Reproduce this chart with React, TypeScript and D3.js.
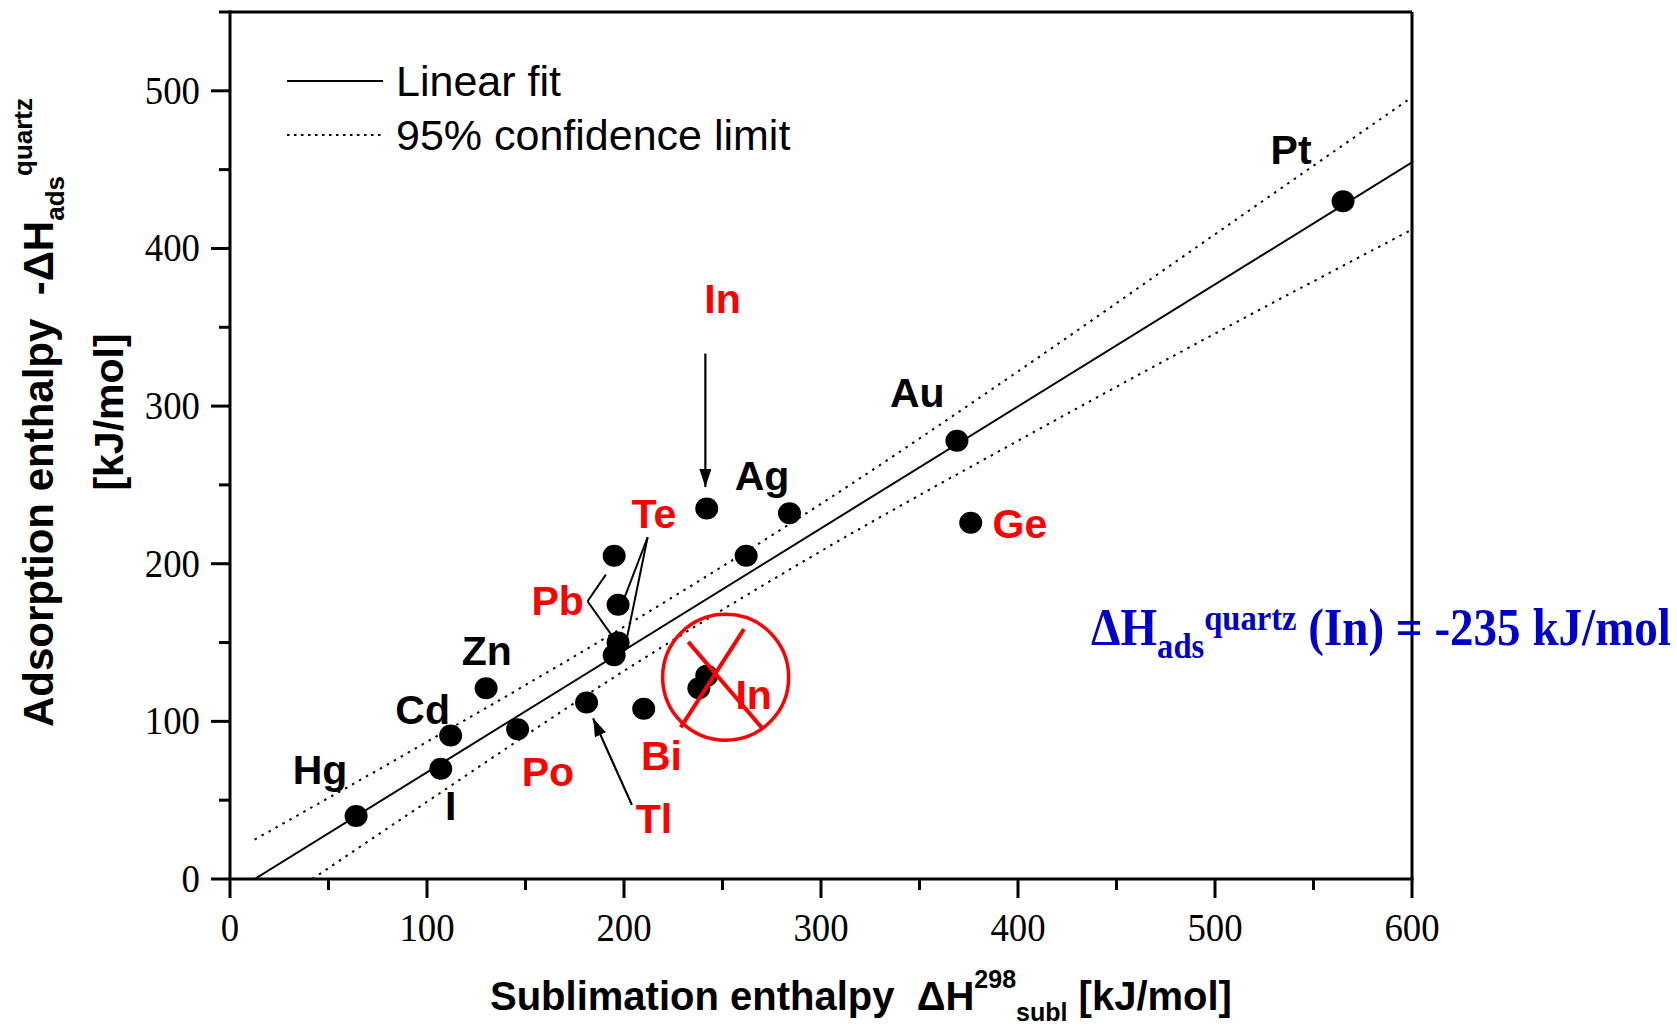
import * as d3 from 'd3'

// measured points: sublimation enthalpy vs adsorption enthalpy on quartz
const elements = ['Hg', 'I', 'Cd', 'Zn', 'Po', 'Tl', 'Pb', 'Te', 'Te', 'Pb', 'Bi', 'In', 'In', 'In', 'Ag', 'Ag', 'Au', 'Ge', 'Pt']
const sublimation = [64, 107, 112, 130, 146, 181, 195, 197, 197, 195, 210, 238, 242, 242, 262, 284, 369, 376, 565]
const adsorption = [40, 70, 91, 121, 95, 112, 205, 174, 150, 142, 108, 121, 129, 235, 205, 232, 278, 226, 430]

// linear fit and 95% limits
const fitX = [12.5, 600]
const fitY = [0, 454.6]
const upperX = [12.5, 100, 200, 300, 400, 500, 600]
const upperY = [25, 87, 160, 238, 322, 409, 496]
const lowerX = [41.8, 100, 200, 300, 400, 500, 600]
const lowerY = [0, 49, 132, 208, 278, 346, 412]

const xTicks = [0, 100, 200, 300, 400, 500, 600]
const yTicks = [0, 100, 200, 300, 400, 500]

// element labels (data units, baseline centre)
const labels = [
    { t: 'Hg', x: 45.7, y: 60.3, red: false },
    { t: 'Cd', x: 97.8, y: 98.2, red: false },
    { t: 'Zn', x: 130.4, y: 135.5, red: false },
    { t: 'I', x: 112, y: 37.3, red: false },
    { t: 'Po', x: 161.4, y: 58.9, red: true },
    { t: 'Tl', x: 215.2, y: 29.1, red: true },
    { t: 'Bi', x: 219, y: 69.1, red: true },
    { t: 'Pb', x: 166.3, y: 167.3, red: true },
    { t: 'Te', x: 215.2, y: 222.9, red: true },
    { t: 'In', x: 250, y: 359, red: true },
    { t: 'Ag', x: 270.1, y: 246.6, red: false },
    { t: 'Au', x: 348.9, y: 299.5, red: false },
    { t: 'Ge', x: 401, y: 216.1, red: true },
    { t: 'Pt', x: 538.6, y: 453.3, red: false },
    { t: 'In', x: 265.8, y: 107.7, red: true },
]

// leader lines [x1, y1, x2, y2] in data units
const leaders = [
    [181.5, 176.2, 190.8, 193.1],
    [181.5, 176.2, 194.6, 153.1],
    [212, 216.8, 198.9, 174.1],
    [212, 216.8, 201.1, 150.4],
]
const arrows = [
    [241.3, 333.3, 241.3, 248.6],
    [204, 47, 184.3, 101.9],
]
const crossLines = [
    [232.6, 150.4, 270.7, 94.9],
    [260.9, 158.5, 228.8, 96.2],
]

const W = 1677
const H = 1029
const sans = 'Liberation Sans, Arial, sans-serif'
const serif = 'Liberation Serif, Times New Roman, serif'

const App = () => {
    const x = d3.scaleLinear().domain([0, 600]).range([230, 1412])
    const y = d3.scaleLinear().domain([0, 550]).range([879, 12])

    const line = d3.line<number>()
        .x(d => x(d[0]))
        .y(d => y(d[1]))
    const curve = d3.line<number>()
        .x(d => x(d[0]))
        .y(d => y(d[1]))
        .curve(d3.curveMonotoneX)

    const fit = fitX.map((v, i) => [v, fitY[i]])
    const upper = upperX.map((v, i) => [v, upperY[i]])
    const lower = lowerX.map((v, i) => [v, lowerY[i]])

    const minorX = d3.range(50, 600, 100)
    const minorY = d3.range(50, 600, 100)

    return (
        <svg width={W} height={H} style={{ position: 'absolute', left: 0, top: 0, background: '#fff' }}>
            <defs>
                <marker id='head' viewBox='0 0 18 12' refX='18' refY='6' markerWidth='18' markerHeight='12' orient='auto' markerUnits='userSpaceOnUse'>
                    <path d='M0,0 L18,6 L0,12 z' fill='#000' />
                </marker>
                <clipPath id='plot'>
                    <rect x={x(0)} y={y(550)} width={x(600) - x(0)} height={y(0) - y(550)} />
                </clipPath>
            </defs>

            {/* fit and confidence limits */}
            <g clipPath='url(#plot)'>
                <path d={line(fit)} fill='none' stroke='#000' strokeWidth={2} />
                <path d={curve(upper)} fill='none' stroke='#000' strokeWidth={2} strokeDasharray='2.5,5.5' />
                <path d={curve(lower)} fill='none' stroke='#000' strokeWidth={2} strokeDasharray='2.5,5.5' />
            </g>

            {/* leader lines */}
            {leaders.map((l, i) => (
                <line key={'ld' + i} x1={x(l[0])} y1={y(l[1])} x2={x(l[2])} y2={y(l[3])} stroke='#000' strokeWidth={2} />
            ))}
            {arrows.map((l, i) => (
                <line key={'ar' + i} x1={x(l[0])} y1={y(l[1])} x2={x(l[2])} y2={y(l[3])} stroke='#000' strokeWidth={2.2} markerEnd='url(#head)' />
            ))}

            {/* points */}
            {sublimation.map((v, i) => (
                <ellipse key={'p' + i} cx={x(v)} cy={y(adsorption[i])} rx={11.5} ry={11} fill='#000' />
            ))}

            {/* crossed-out In */}
            <ellipse cx={x(251.6)} cy={y(128)} rx={63} ry={63} fill='none' stroke='#f00' strokeWidth={3.5} />
            {crossLines.map((l, i) => (
                <line key={'cx' + i} x1={x(l[0])} y1={y(l[1])} x2={x(l[2])} y2={y(l[3])} stroke='#f00' strokeWidth={4} />
            ))}

            {/* element labels */}
            {labels.map((l, i) => (
                <text key={'lb' + i} x={x(l.x)} y={y(l.y)} textAnchor='middle' fontFamily={sans} fontWeight='bold' fontSize={41} fill={l.red ? '#f00' : '#000'}>{l.t}</text>
            ))}

            {/* axes frame */}
            <line x1={x(0)} y1={y(550)} x2={x(600)} y2={y(550)} stroke='#000' strokeWidth={3} />
            <line x1={x(600)} y1={y(550)} x2={x(600)} y2={y(0)} stroke='#000' strokeWidth={3} />
            <line x1={x(0)} y1={y(550) - 1.5} x2={x(0)} y2={y(0)} stroke='#000' strokeWidth={3} />
            <line x1={x(0)} y1={y(0)} x2={x(600) + 1.5} y2={y(0)} stroke='#000' strokeWidth={3} />

            {xTicks.map(t => (
                <line key={'xt' + t} x1={x(t)} x2={x(t)} y1={y(0)} y2={y(0) + 19} stroke='#000' strokeWidth={3} />
            ))}
            {minorX.map(t => (
                <line key={'xm' + t} x1={x(t)} x2={x(t)} y1={y(0)} y2={y(0) + 11} stroke='#000' strokeWidth={3} />
            ))}
            {yTicks.map(t => (
                <line key={'yt' + t} x1={x(0) - 19} x2={x(0)} y1={y(t)} y2={y(t)} stroke='#000' strokeWidth={3} />
            ))}
            {minorY.map(t => (
                <line key={'ym' + t} x1={x(0) - 11} x2={x(0)} y1={y(t)} y2={y(t)} stroke='#000' strokeWidth={3} />
            ))}

            {xTicks.map(t => (
                <text key={'xl' + t} transform={`translate(${x(t)},${y(0) + 62}) scale(0.92,1)`} textAnchor='middle' fontFamily={serif} fontSize={40}>{t}</text>
            ))}
            {yTicks.map(t => (
                <text key={'yl' + t} transform={`translate(${x(0) - 30},${y(t) + 13}) scale(0.92,1)`} textAnchor='end' fontFamily={serif} fontSize={40}>{t}</text>
            ))}

            {/* axis titles */}
            <text x={490} y={1010} fontFamily={sans} fontWeight='bold' fontSize={40} style={{ whiteSpace: 'pre' }}>
                <tspan>Sublimation enthalpy  ΔH</tspan>
                <tspan fontSize={25} dy={-22}>298</tspan>
                <tspan fontSize={25} dy={33}>subl</tspan>
                <tspan dy={-11}> [kJ/mol]</tspan>
            </text>
            <text transform='translate(53,727) rotate(-90)' fontFamily={sans} fontWeight='bold' fontSize={42} style={{ whiteSpace: 'pre' }}>
                <tspan>Adsorption enthalpy  -ΔH</tspan>
                <tspan fontSize={26} dy={11}>ads</tspan>
                <tspan fontSize={26} dy={-32}>quartz</tspan>
            </text>
            <text transform='translate(123,412) rotate(-90)' textAnchor='middle' fontFamily={sans} fontWeight='bold' fontSize={41}>[kJ/mol]</text>

            {/* legend */}
            <line x1={287} x2={383} y1={81} y2={81} stroke='#000' strokeWidth={2} />
            <text x={396} y={96} fontFamily={sans} fontSize={43}>Linear fit</text>
            <line x1={287} x2={383} y1={135} y2={135} stroke='#000' strokeWidth={2} strokeDasharray='2.5,4.5' />
            <text x={396} y={150} fontFamily={sans} fontSize={43}>95% confidence limit</text>

            {/* result */}
            <g transform='translate(1091,645) scale(0.905,1)'>
                <text x={0} y={0} fontFamily={serif} fontWeight='bold' fontSize={52} fill='#0000cc' style={{ whiteSpace: 'pre' }}>
                    <tspan>ΔH</tspan>
                    <tspan fontSize={36} dy={13}>ads</tspan>
                    <tspan fontSize={36} dy={-28}>quartz</tspan>
                    <tspan dy={15}> (In) = -235 kJ/mol</tspan>
                </text>
            </g>
        </svg>
    )
}

export default App
